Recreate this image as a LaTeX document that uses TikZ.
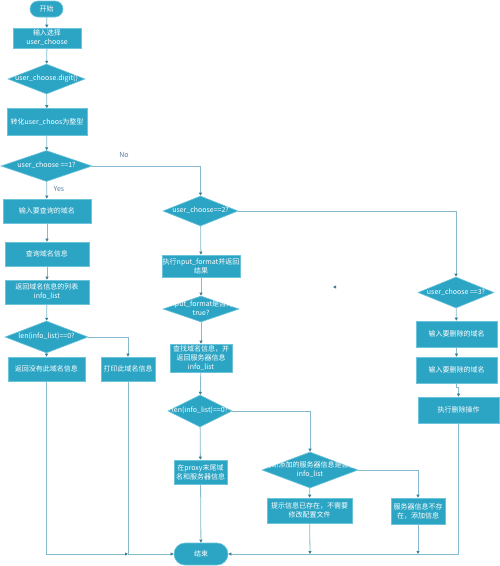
\documentclass[tikz,border=0pt]{standalone}
\usepackage{fontspec}
\setmainfont{Noto Sans CJK SC}
\usetikzlibrary{arrows.meta,shapes.geometric,shapes.misc}
\definecolor{cell}{HTML}{2CA4C4}
\definecolor{rim}{HTML}{6CC4DA}
\definecolor{wire}{HTML}{86BACC}
\definecolor{tip}{HTML}{3B7E95}
\definecolor{muted}{HTML}{5A7FA8}
\newcommand\dlabel[1]{\makebox[0pt]{\begin{tabular}{@{}c@{}}#1\end{tabular}}}
\tikzset{
 proc/.style={draw=rim,fill=cell,line width=.6pt,text=white,align=center,inner sep=0pt},
 term/.style={proc,rounded rectangle},
 test/.style={proc,diamond},
 flow/.style={-{Triangle[length=3pt,width=3pt,color=tip]},draw=wire,line width=.8pt},
 tag/.style={text=muted}
}

\begin{document}
\begin{tikzpicture}[x=1pt,y=-1pt,font=\fontsize{7}{9}\selectfont]
  \useasboundingbox[fill=white] (0,0) rectangle (500,566);

  % left column
  \node[term,minimum width=33,minimum height=16] (start) at (46.5,9) {开始};
  \node[proc,minimum width=68,minimum height=20] (input) at (47,38) {输入选择\\user\_choose};
  \node[test,minimum width=77,minimum height=30] (isdigit) at (46.5,79) {\dlabel{user\_choose.digit()}};
  \node[proc,minimum width=80,minimum height=27] (toint) at (47,122) {转化user\_choos为整型};
  \node[test,minimum width=91,minimum height=31] (one) at (46.5,166) {\dlabel{user\_choose ==1?}};
  \node[proc,minimum width=88,minimum height=24] (ask) at (47,211) {输入要查询的域名};
  \node[proc,minimum width=84,minimum height=24] (query) at (47,254) {查询域名信息};
  \node[proc,minimum width=84,minimum height=24] (list) at (47,292) {返回域名信息的列表\\info\_list};
  \node[test,minimum width=83,minimum height=32] (empty) at (46.5,337) {\dlabel{len(info\_list)==0?}};
  \node[proc,minimum width=77,minimum height=24] (none) at (46.5,369) {返回没有此域名信息};
  \node[proc,minimum width=54,minimum height=24] (print) at (128,369) {打印此域名信息};

  % middle column
  \node[test,minimum width=75,minimum height=30] (two) at (200.5,211) {\dlabel{user\_choose==2?}};
  \node[proc,minimum width=78,minimum height=22] (format) at (201,266) {执行nput\_format并返回\\结果};
  \node[test,minimum width=76,minimum height=26] (valid) at (201,309) {\dlabel{input\_format是否为\\true?}};
  \node[proc,minimum width=62,minimum height=28] (find) at (201,358) {查找域名信息，并\\返回服务器信息\\info\_list};
  \node[test,minimum width=64,minimum height=32] (empty2) at (200,411) {\dlabel{len(info\_list)==0?}};
  \node[proc,minimum width=53,minimum height=24] (append) at (200.5,472) {在proxy末尾域\\名和服务器信息};
  \node[term,minimum width=54,minimum height=22] (stop) at (201,554) {结束};
  \node[test,minimum width=96,minimum height=36] (exists) at (310,470) {\dlabel{判断添加的服务器信息是否在\\info\_list}};
  \node[proc,minimum width=85,minimum height=25] (hint) at (309.5,510.5) {提示信息已存在，不需要\\修改配置文件};
  \node[proc,minimum width=54,minimum height=26] (add) at (418,511) {服务器信息不存\\在，添加信息};

  % right column
  \node[test,minimum width=76,minimum height=31] (three) at (456,292.5) {\dlabel{user\_choose ==3?}};
  \node[proc,minimum width=81,minimum height=26] (del1) at (456.5,334) {输入要删除的域名};
  \node[proc,minimum width=81,minimum height=26] (del2) at (456.5,370) {输入要删除的域名};
  \node[proc,minimum width=81,minimum height=26] (remove) at (458.5,410) {执行删除操作};

  \coordinate (joinL) at (128,554);
  \coordinate (joinH) at (310,554);
  \coordinate (joinA) at (418,554);
  \coordinate (strayA) at (334.5,287);
  \coordinate (strayB) at (333,287);

  \draw[flow] (start) -- (input);
  \draw[flow] (input) -- (isdigit);
  \draw[flow] (isdigit) -- (toint);
  \draw[flow] (toint) -- (one);
  \draw[flow] (one) -- (ask);
  \draw[flow] (one.east) -| (two.north);
  \draw[flow] (ask) -- (query);
  \draw[flow] (query) -- (list);
  \draw[flow] (list) -- (empty);
  \draw[flow] (empty) -- (none);
  \draw[flow] (empty.east) -| (print.north);
  \draw[flow] (none.south) |- (joinL);
  \draw[flow] (print.south) |- (stop.west);

  \draw[flow] (two) -- (format);
  \draw[flow] (format) -- (valid);
  \draw[flow] (valid) -- (find);
  \draw[flow] (find) -- (empty2);
  \draw[flow] (empty2) -- (append);
  \draw[flow] (append) -- (stop);
  \draw[flow] (empty2.east) -| (exists.north);
  \draw[flow] (exists) -- (hint);
  \draw[flow] (exists.east) -| (add.north);
  \draw[flow] (hint) -- (joinH);
  \draw[flow] (add) -- (joinA);

  \draw[flow] (two.east) -| (three.north);
  \draw[flow] (three) -- (del1);
  \draw[flow] (del1) -- (del2);
  \draw[flow] (del2.south) -- ++(0,4) -| (remove.north);
  \draw[flow] (remove.south) |- (stop.east);
  \draw[flow] (strayA) -- (strayB);

  \node[tag] (no) at (124,155) {No};
  \node[tag] (yes) at (59,189) {Yes};
\end{tikzpicture}
\end{document}
